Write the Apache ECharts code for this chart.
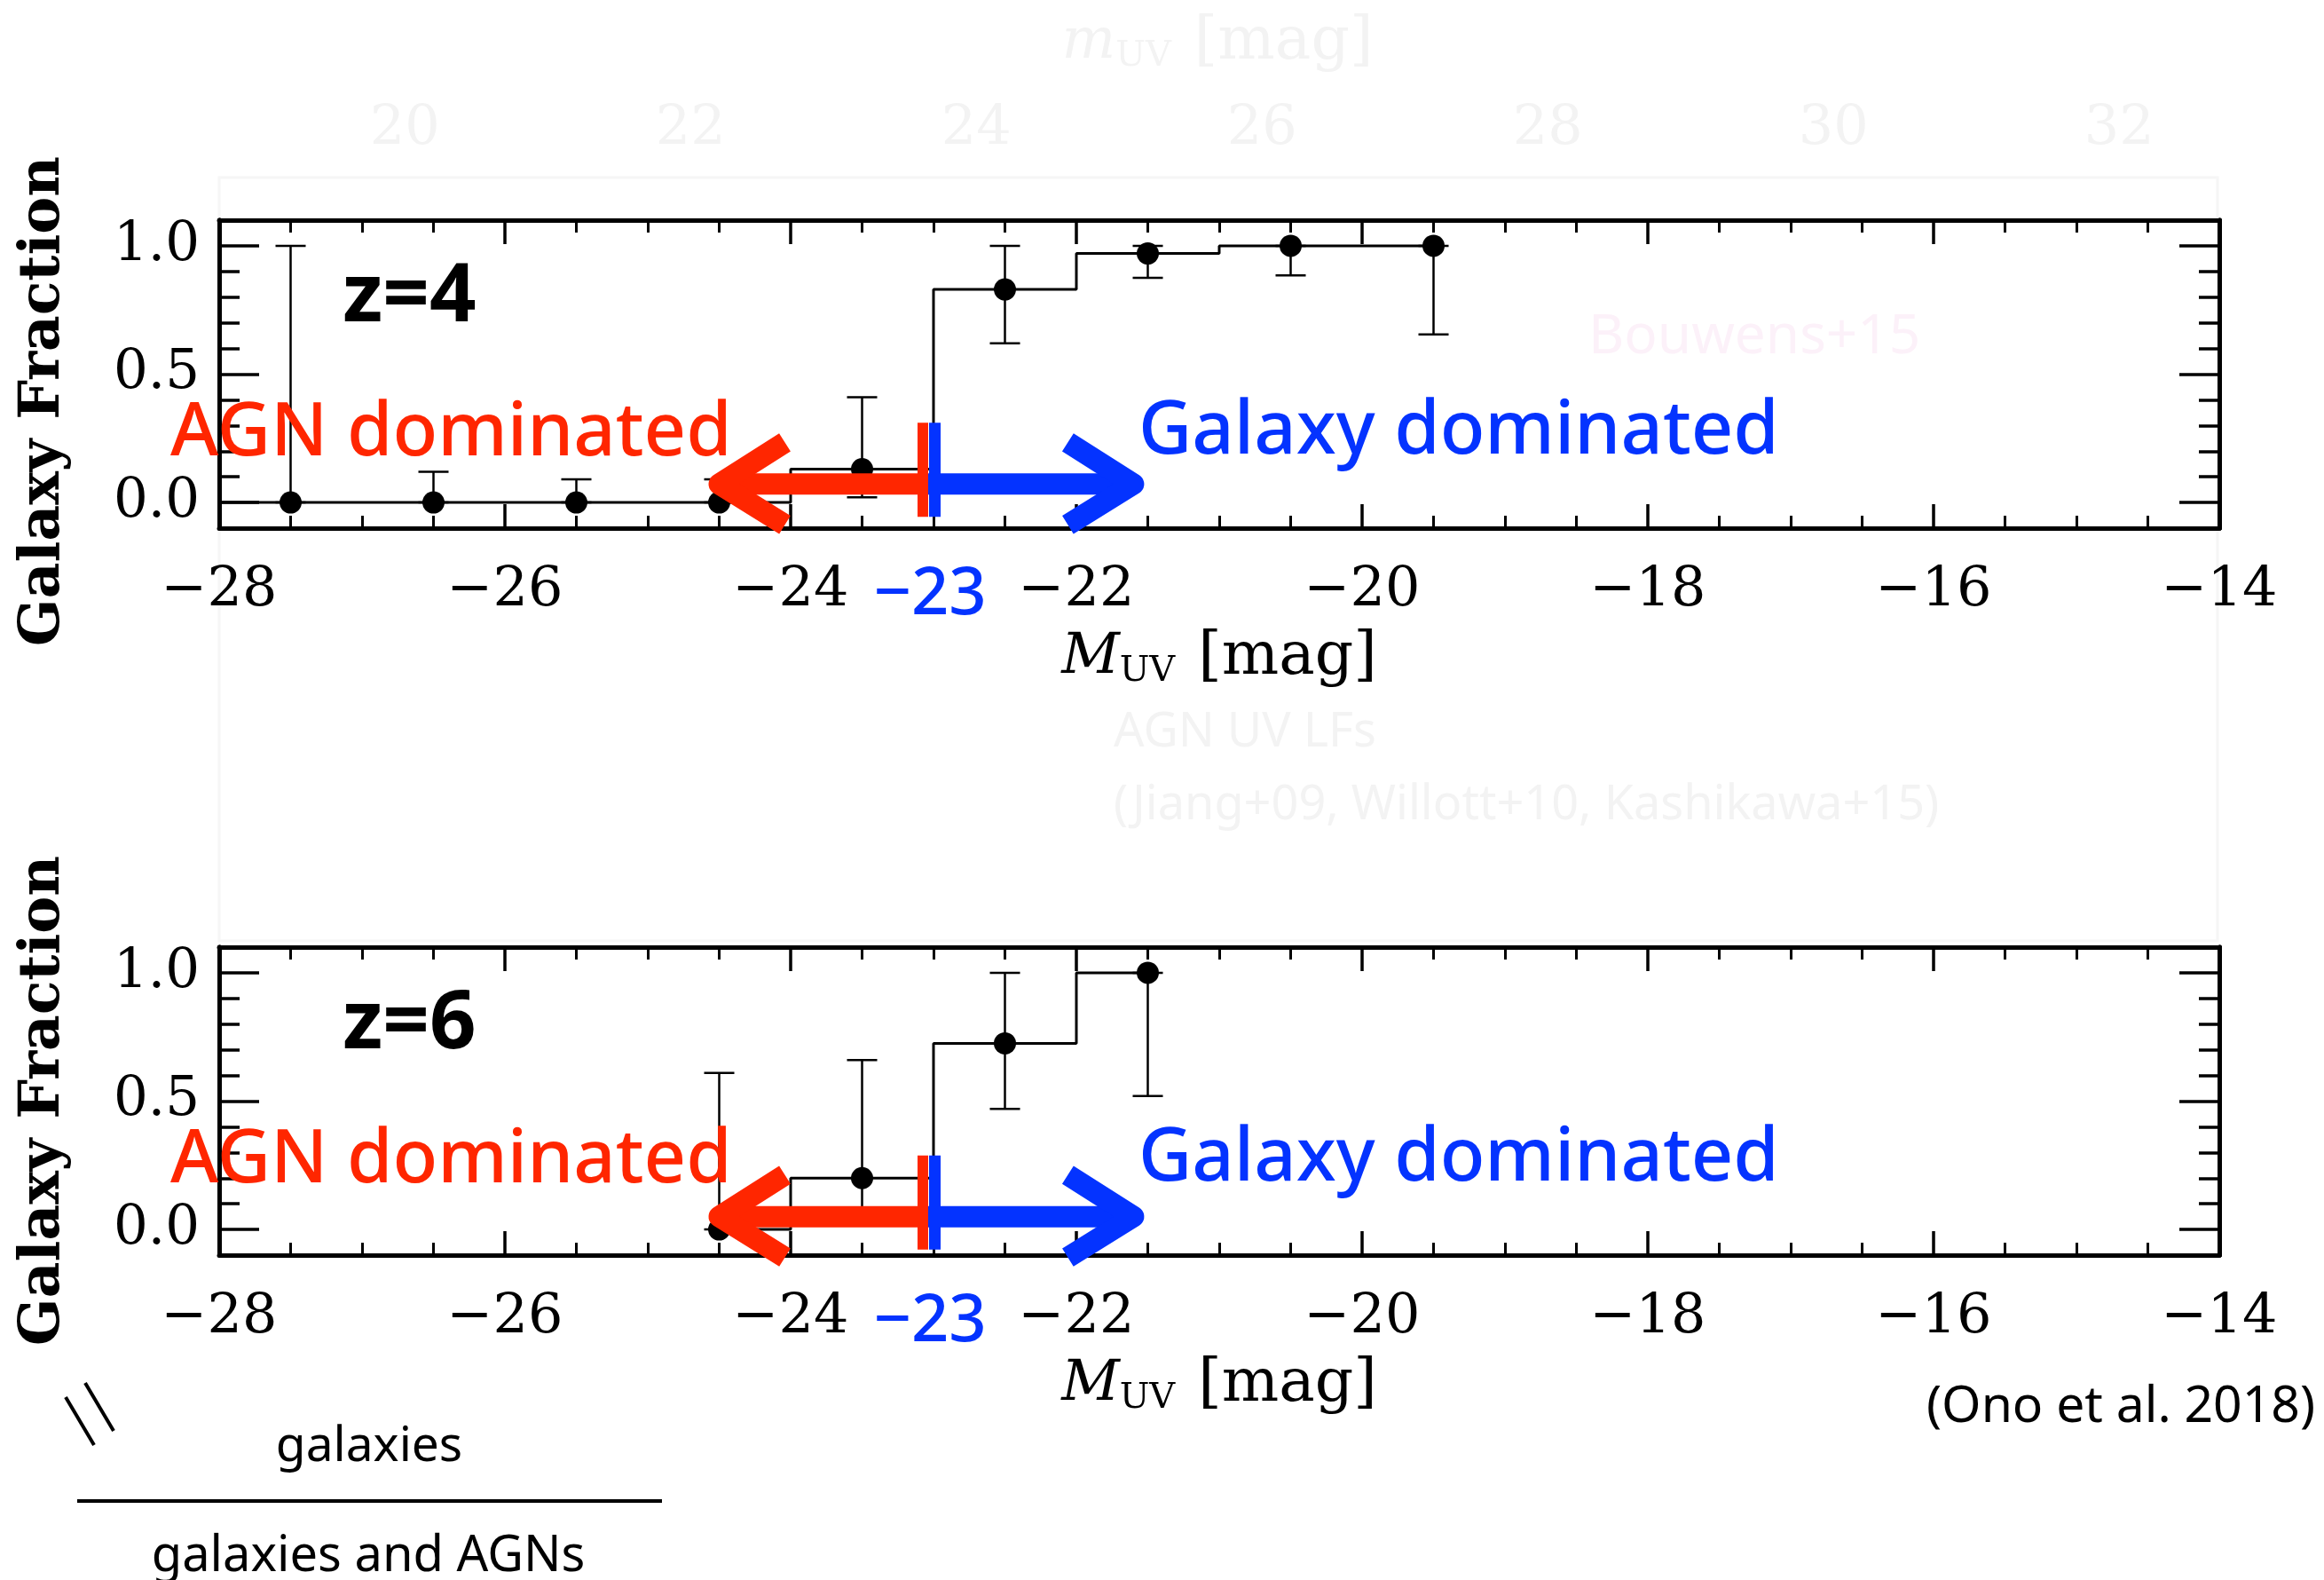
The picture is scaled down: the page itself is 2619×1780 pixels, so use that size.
<!DOCTYPE html>
<html>
<head>
<meta charset="utf-8">
<title>Galaxy Fraction vs M_UV</title>
<script src="https://cdn.jsdelivr.net/npm/echarts@6/dist/echarts.min.js"></script>
<style>
html, body { margin: 0; padding: 0; background: #fff; }
#chart { width: 2619px; height: 1780px; }
</style>
</head>
<body>
<div id="chart"></div>
<script>
// z=4 galaxy fraction (points, error bars)
var magZ4 = [-27.5, -26.5, -25.5, -24.5, -23.5, -22.5, -21.5, -20.5, -19.5];
var fracZ4 = [0, 0, 0, 0, 0.13, 0.83, 0.97, 1.0, 1.0];
var loZ4 = [0, 0, 0, 0, 0.02, 0.62, 0.875, 0.885, 0.655];
var hiZ4 = [1.0, 0.12, 0.09, 0.09, 0.41, 1.0, 1.0, 1.0, 1.0];
var stepStartZ4 = -28;

// z=6 galaxy fraction
var magZ6 = [-24.5, -23.5, -22.5, -21.5];
var fracZ6 = [0, 0.2, 0.725, 1.0];
var loZ6 = [0, 0.06, 0.47, 0.52];
var hiZ6 = [0.61, 0.66, 1.0, 1.0];
var stepStartZ6 = -24.5;

// axis ticks
var yLabelTicks = [0, 0.5, 1.0];
var yMinorTicks = [-0.1, 0, 0.1, 0.2, 0.3, 0.4, 0.5, 0.6, 0.7, 0.8, 0.9, 1.0, 1.1];
var ghostTopLabels = [20, 22, 24, 26, 28, 30, 32];

// annotation (boundary between AGN / galaxy dominated)
var boundaryMag = -23;
var agnTipMag = -24.5;
var galTipMag = -21.6;
var arrowLevel = [0.072, 0.05];

var RED = '#FF2600', BLUE = '#0433FF';
var SERIF = 'DejaVu Serif', SANS = 'Noto Sans';

var gridTops = [248, 1067];
var gridH = 347;

var chart = echarts.init(document.getElementById('chart'));

// histogram steps: bins of width 1 around each point, last bin stops at its point
function stepData(xs, ys, start) {
  var out = [];
  for (var i = 0; i < xs.length; i++) {
    out.push([i == 0 ? start : xs[i] - 0.5, ys[i]]);
    out.push([i == xs.length - 1 ? xs[i] : xs[i] + 0.5, ys[i]]);
  }
  return out;
}
function errData(xs, lo, hi) {
  return xs.map(function (x, i) { return [x, lo[i], hi[i]]; });
}
function ptData(xs, ys) {
  return xs.map(function (x, i) { return [x, ys[i]]; });
}

function renderErr(params, api) {
  var x = api.value(0);
  var a = api.coord([x, api.value(1)]);
  var b = api.coord([x, api.value(2)]);
  var w = 17;
  var st = { stroke: '#000', lineWidth: 2.5 };
  return {
    type: 'group',
    children: [
      { type: 'line', shape: { x1: a[0], y1: a[1], x2: b[0], y2: b[1] }, style: st },
      { type: 'line', shape: { x1: a[0] - w, y1: a[1], x2: a[0] + w, y2: a[1] }, style: st },
      { type: 'line', shape: { x1: b[0] - w, y1: b[1], x2: b[0] + w, y2: b[1] }, style: st }
    ]
  };
}

var axisLine = { show: true, onZero: false, lineStyle: { color: '#000', width: 5 } };

function xAxes(g) {
  var base = {
    gridIndex: g, type: 'value', min: -28, max: -14, interval: 2,
    axisLine: axisLine,
    axisTick: { inside: true, length: 27, lineStyle: { color: '#000', width: 3.5 } },
    minorTick: { show: true, splitNumber: 4, length: 14, lineStyle: { color: '#000', width: 3 } },
    splitLine: { show: false }, minorSplitLine: { show: false }
  };
  var bottom = Object.assign({}, base, {
    position: 'bottom',
    axisLabel: {
      margin: 40, color: '#000', fontFamily: SERIF, fontSize: 62,
      formatter: function (v) { return (v < 0 ? '\u2212' : '') + Math.abs(v); }
    },
    name: '{m|M}{s|UV}{n|[mag]}',
    nameLocation: 'middle', nameGap: 110,
    nameTextStyle: {
      rich: {
        m: { fontFamily: SERIF, fontStyle: 'italic', fontSize: 64, lineHeight: 72, color: '#000', verticalAlign: 'middle' },
        s: { fontFamily: SERIF, fontSize: 40, lineHeight: 24, color: '#000', verticalAlign: 'bottom' },
        n: { fontFamily: SERIF, fontSize: 68, lineHeight: 72, color: '#000', verticalAlign: 'middle', padding: [0, 0, 0, 26] }
      }
    }
  });
  var top = Object.assign({}, base, { position: 'top', axisLabel: { show: false } });
  return [bottom, top];
}

function yAxes(g) {
  function ax(pos, len, ticks, labels) {
    return {
      gridIndex: g, type: 'value', min: -0.1, max: 1.1, interval: 0.1, position: pos,
      axisLine: axisLine,
      axisTick: { inside: true, length: len, customValues: ticks, lineStyle: { color: '#000', width: 3.5 } },
      axisLabel: labels ? {
        show: true, customValues: yLabelTicks, margin: 22, color: '#000', fontFamily: SERIF, fontSize: 61,
        formatter: function (v) { return Math.abs(v).toFixed(1); }
      } : { show: false },
      splitLine: { show: false }
    };
  }
  return [
    ax('left', 45, yLabelTicks, true),
    ax('left', 23, yMinorTicks, false),
    ax('right', 45, yLabelTicks, false),
    ax('right', 23, yMinorTicks, false)
  ];
}

function panelSeries(g, xs, ys, lo, hi, start) {
  var xi = g * 2, yi = g * 4;
  return [
    {
      type: 'line', xAxisIndex: xi, yAxisIndex: yi, data: stepData(xs, ys, start),
      symbol: 'none', lineStyle: { color: '#000', width: 3 }, z: 3, silent: true
    },
    {
      type: 'custom', xAxisIndex: xi, yAxisIndex: yi, data: errData(xs, lo, hi),
      renderItem: renderErr, encode: { x: 0, y: [1, 2] }, z: 4, silent: true
    },
    {
      type: 'scatter', xAxisIndex: xi, yAxisIndex: yi, data: ptData(xs, ys),
      symbol: 'circle', symbolSize: 25, itemStyle: { color: '#000', opacity: 1 }, z: 5, silent: true
    }
  ];
}

var option = {
  backgroundColor: '#fff',
  animation: false,
  grid: [
    { left: 247, right: 118, top: gridTops[0], height: gridH, containLabel: false },
    { left: 247, right: 118, top: gridTops[1], height: gridH, containLabel: false }
  ],
  xAxis: xAxes(0).concat(xAxes(1)),
  yAxis: yAxes(0).concat(yAxes(1)),
  series: panelSeries(0, magZ4, fracZ4, loZ4, hiZ4, stepStartZ4)
    .concat(panelSeries(1, magZ6, fracZ6, loZ6, hiZ6, stepStartZ6))
};
chart.setOption(option);

// annotations: arrows, labels, legend, faint background figure
var gfx = [];
function px(g, x, y) { return chart.convertToPixel({ gridIndex: g }, [x, y]); }

// faint ghost of the underlying luminosity-function figure
var ghost = '#f3f3f3';
gfx.push({ type: 'rect', z: 0, shape: { x: 247, y: 200, width: 2252, height: 860 }, style: { fill: null, stroke: '#f6f6f6', lineWidth: 3 } });
ghostTopLabels.forEach(function (m) {
  var p = px(0, m - 46.7, 0);
  gfx.push({ type: 'text', z: 0, x: p[0], y: 146, style: { text: String(m), font: '62px "' + SERIF + '"', fill: ghost, align: 'center', verticalAlign: 'middle' } });
});
gfx.push({ type: 'text', z: 0, x: 1372, y: 48, style: {
  text: '{m|m}{s|UV}{n|[mag]}', align: 'center', verticalAlign: 'middle',
  rich: {
    m: { fontFamily: SERIF, fontStyle: 'italic', fontSize: 64, lineHeight: 72, fill: ghost, verticalAlign: 'middle' },
    s: { fontFamily: SERIF, fontSize: 40, lineHeight: 24, fill: ghost, verticalAlign: 'bottom' },
    n: { fontFamily: SERIF, fontSize: 68, lineHeight: 72, fill: ghost, verticalAlign: 'middle', padding: [0, 0, 0, 26] }
  } } });
gfx.push({ type: 'text', z: 0, x: 1255, y: 826, style: { text: 'AGN UV LFs', font: '54px "' + SANS + '"', fill: ghost, verticalAlign: 'middle' } });
gfx.push({ type: 'text', z: 0, x: 1255, y: 908, style: { text: '(Jiang+09, Willott+10, Kashikawa+15)', font: '54px "' + SANS + '"', fill: ghost, verticalAlign: 'middle' } });
gfx.push({ type: 'text', z: 0, x: 1790, y: 380, style: { text: 'Bouwens+15', font: '62px "' + SANS + '"', fill: '#fcf1f9', verticalAlign: 'middle' } });

['z=4', 'z=6'].forEach(function (lab, g) {
  var top = gridTops[g], bot = top + gridH;
  // y axis title
  gfx.push({ type: 'text', x: 50, y: g == 0 ? 452 : 1240, rotation: Math.PI / 2, style: {
    text: 'Galaxy Fraction', font: 'bold 63px "' + SERIF + '"', fill: '#000', align: 'center', verticalAlign: 'middle' } });
  // redshift label
  gfx.push({ type: 'text', x: 386, y: top + 88, z: 20, style: { text: lab, font: 'bold 92px "' + SANS + '"', fill: '#000', verticalAlign: 'middle' } });

  var by = px(g, boundaryMag, arrowLevel[g])[1];
  var bx = px(g, boundaryMag, arrowLevel[g])[0];
  var rt = px(g, agnTipMag, 0)[0];
  var gt = px(g, galTipMag, 0)[0];
  // red arrow (AGN side)
  gfx.push({ type: 'line', z: 30, shape: { x1: rt + 8, y1: by, x2: bx - 8, y2: by }, style: { stroke: RED, lineWidth: 24 } });
  gfx.push({ type: 'polyline', z: 30, shape: { points: [[rt + 74, by - 47], [rt, by], [rt + 74, by + 46]] },
    style: { stroke: RED, lineWidth: 24, lineJoin: 'round', fill: null } });
  gfx.push({ type: 'rect', z: 31, shape: { x: bx - 18, y: by - 69, width: 12, height: 106 }, style: { fill: RED } });
  // blue arrow (galaxy side)
  gfx.push({ type: 'line', z: 30, shape: { x1: bx - 6, y1: by, x2: gt - 8, y2: by }, style: { stroke: BLUE, lineWidth: 24 } });
  gfx.push({ type: 'polyline', z: 30, shape: { points: [[gt - 74, by - 47], [gt, by], [gt - 74, by + 46]] },
    style: { stroke: BLUE, lineWidth: 24, lineJoin: 'round', fill: null } });
  gfx.push({ type: 'rect', z: 31, shape: { x: bx - 5, y: by - 69, width: 13, height: 106 }, style: { fill: BLUE } });

  gfx.push({ type: 'text', x: 192, y: top + 241, z: 32, style: { text: 'AGN dominated', font: '500 83px "' + SANS + '"', fill: RED, verticalAlign: 'middle' } });
  gfx.push({ type: 'text', x: 1283, y: top + 239, z: 32, style: { text: 'Galaxy dominated', font: '500 83px "' + SANS + '"', fill: BLUE, verticalAlign: 'middle' } });
  gfx.push({ type: 'text', x: bx - 4, y: bot + 76, z: 32, style: { text: '\u221223', font: '500 74px "' + SANS + '"', fill: BLUE, align: 'center', verticalAlign: 'middle' } });
});

// fraction legend at bottom left
gfx.push({ type: 'line', shape: { x1: 74, y1: 1574, x2: 106, y2: 1628 }, style: { stroke: '#000', lineWidth: 4 } });
gfx.push({ type: 'line', shape: { x1: 96, y1: 1558, x2: 128, y2: 1612 }, style: { stroke: '#000', lineWidth: 4 } });
gfx.push({ type: 'text', x: 416, y: 1630, style: { text: 'galaxies', font: '55px "' + SANS + '"', fill: '#000', align: 'center', verticalAlign: 'middle' } });
gfx.push({ type: 'line', shape: { x1: 87, y1: 1691, x2: 746, y2: 1691 }, style: { stroke: '#000', lineWidth: 4 } });
gfx.push({ type: 'text', x: 415, y: 1754, style: { text: 'galaxies and AGNs', font: '56px "' + SANS + '"', fill: '#000', align: 'center', verticalAlign: 'middle' } });
gfx.push({ type: 'text', x: 2609, y: 1586, style: { text: '(Ono et al. 2018)', font: '57px "' + SANS + '"', fill: '#000', align: 'right', verticalAlign: 'middle' } });

chart.setOption({ graphic: gfx });
</script>
</body>
</html>
